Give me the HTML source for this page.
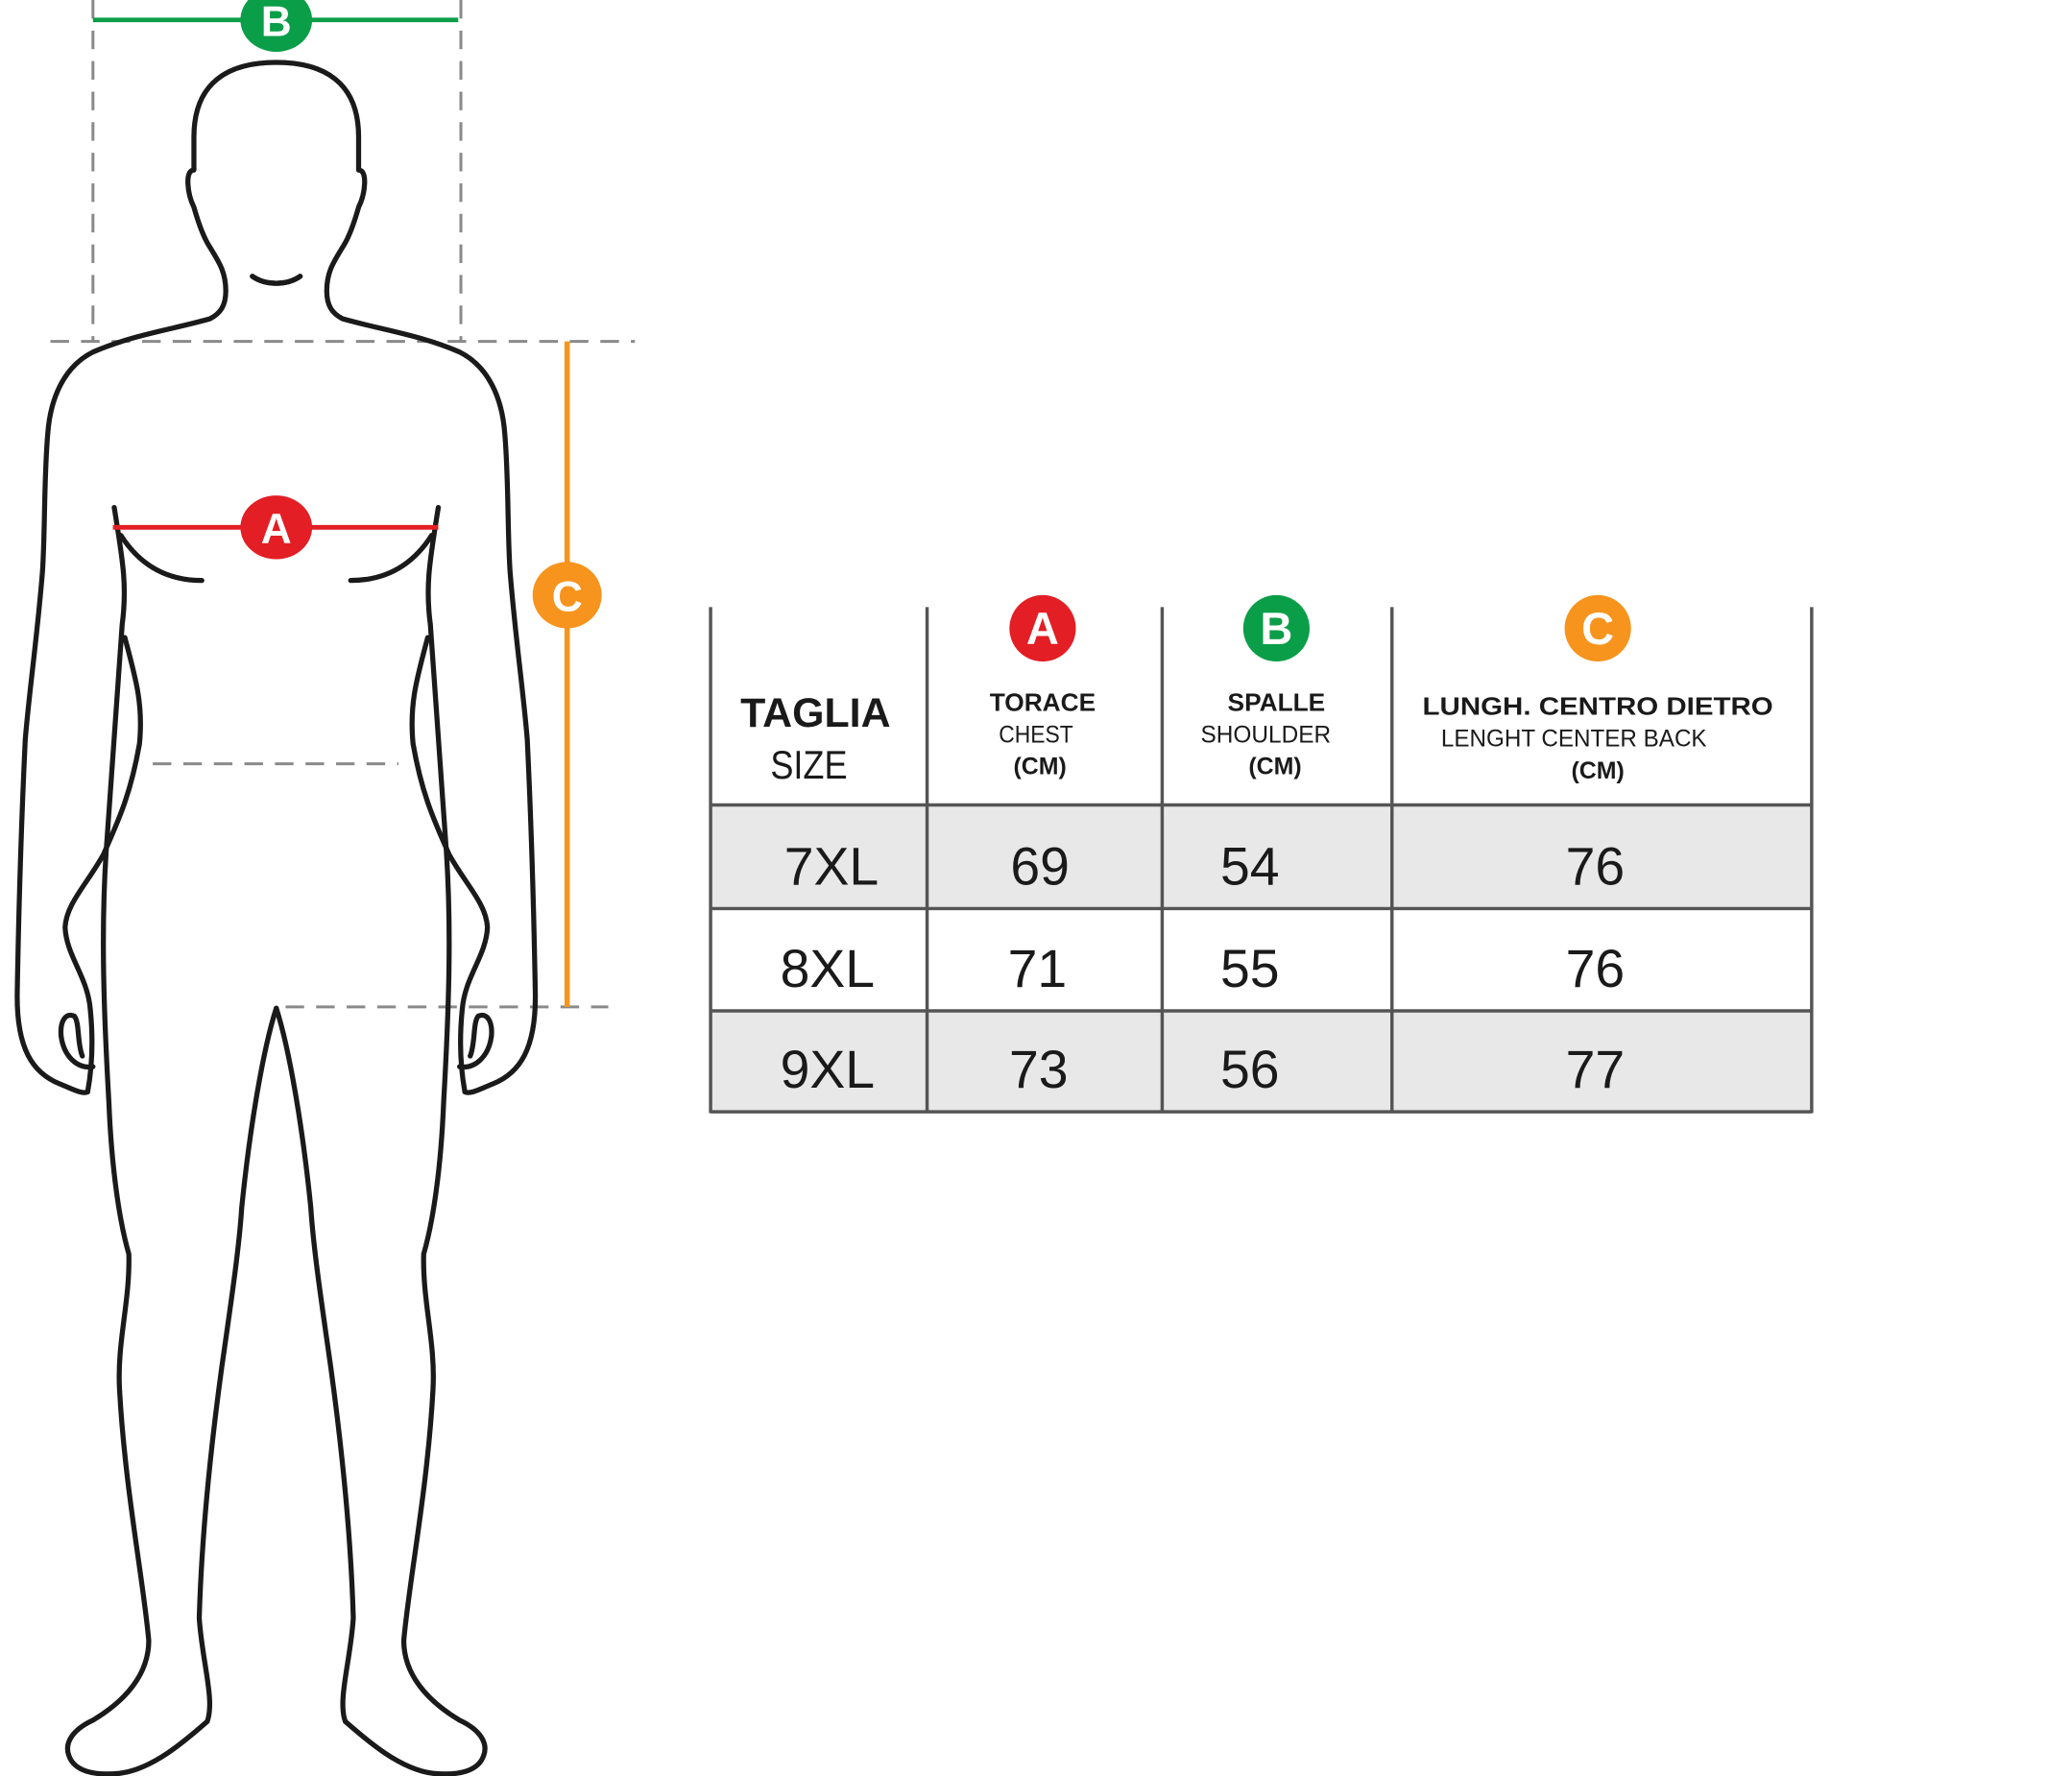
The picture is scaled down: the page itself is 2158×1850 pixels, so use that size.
<!DOCTYPE html>
<html><head><meta charset="utf-8"><style>
html,body{margin:0;padding:0;background:#fff;}
svg{display:block;}
text{font-family:"Liberation Sans",sans-serif;}
</style></head><body>
<svg width="2158" height="1850" viewBox="0 0 1560 1337" preserveAspectRatio="none" xmlns="http://www.w3.org/2000/svg">
<rect width="1560" height="1337" fill="#fff"/>
<g stroke="#8a8a8a" stroke-width="2.2" stroke-dasharray="14,9" fill="none">
<line x1="70" y1="0" x2="70" y2="257"/>
<line x1="347" y1="0" x2="347" y2="257"/>
<line x1="38" y1="257" x2="478" y2="257"/>
<line x1="115" y1="575" x2="300" y2="575"/>
<line x1="215" y1="758" x2="458" y2="758"/>
</g>
<g fill="none" stroke="#1a1a1a" stroke-width="3.8" stroke-linecap="round" stroke-linejoin="round" id="half">
<path d="M208,47 C172,47 146,62 146,103 L146,128 C139,128 141,146 146,156 C150,170 154,180 158,186 C164,196 170,204 170,219 C170,230 166,236 158,240 C130,248 100,252 70,265 C48,276 38,300 36,326 C33,360 34,400 32,430 C28,480 22,520 19,557 C16,620 14,690 13,746 C12,790 25,808 45,816 C55,820 62,824 66,822"/>
<path d="M94,480 C102,510 108,530 105,560 C98,600 88,620 78,643 C66,665 50,680 49,698 C50,720 66,735 68,760 C70,780 70,800 66,822"/>
<path d="M70,803 C58,805 48,795 46,780 C45,768 50,762 56,765 C60,770 58,785 62,795"/>
<path d="M86,382 C92,420 96,440 92,470 C88,520 84,580 80,640 C76,700 78,760 82,830 C84,880 90,920 97,944 C98,980 88,1010 90,1046 C94,1120 108,1190 112,1235 C112,1260 95,1280 70,1295 C55,1302 48,1312 52,1322 C56,1333 70,1337 90,1335 C115,1332 140,1310 156,1296 C162,1280 152,1250 150,1218 C152,1150 160,1080 167,1029 C174,980 180,940 182,909 C188,850 198,790 208,759"/>
<path d="M91,403 C105,425 125,437 152,437"/>
<path d="M190,208 C200,215 216,215 226,208"/>
</g>
<use href="#half" transform="translate(416,0) scale(-1,1)"/>
<line x1="70" y1="15" x2="345" y2="15" stroke="#0a9e48" stroke-width="3.5"/>
<line x1="85" y1="397" x2="330" y2="397" stroke="#e31e24" stroke-width="3.5"/>
<line x1="427" y1="257" x2="427" y2="758" stroke="#f7941d" stroke-width="4"/>
<g font-weight="bold" font-size="32" fill="#fff" text-anchor="middle">
<ellipse cx="208" cy="15" rx="27" ry="24" fill="#0a9e48"/><text x="208" y="27">B</text>
<ellipse cx="208" cy="397" rx="27" ry="24" fill="#e31e24"/><text x="208" y="409">A</text>
<ellipse cx="427" cy="448" rx="26" ry="25" fill="#f7941d"/><text x="427" y="460">C</text>
</g>
<rect x="535" y="606" width="829" height="78" fill="#e8e8e8"/>
<rect x="535" y="761" width="829" height="76" fill="#e8e8e8"/>
<g stroke="#555" stroke-width="2.5">
<line x1="535" y1="457" x2="535" y2="838"/>
<line x1="698" y1="457" x2="698" y2="838"/>
<line x1="875" y1="457" x2="875" y2="838"/>
<line x1="1048" y1="457" x2="1048" y2="838"/>
<line x1="1364" y1="457" x2="1364" y2="838"/>
<line x1="535" y1="606" x2="1364" y2="606"/>
<line x1="535" y1="684" x2="1364" y2="684"/>
<line x1="535" y1="761" x2="1364" y2="761"/>
<line x1="535" y1="837" x2="1364" y2="837"/>
</g>
<g font-weight="bold" font-size="34" fill="#fff" text-anchor="middle">
<circle cx="785" cy="473" r="25" fill="#e31e24"/><text x="785" y="485">A</text>
<circle cx="961" cy="473" r="25" fill="#0a9e48"/><text x="961" y="485">B</text>
<circle cx="1203" cy="473" r="25" fill="#f7941d"/><text x="1203" y="485">C</text>
</g>
<g fill="#1a1a1a" text-anchor="middle">
<text x="614" y="547" font-size="31" font-weight="bold">TAGLIA</text>
<text x="609" y="586" font-size="30" textLength="58" lengthAdjust="spacingAndGlyphs">SIZE</text>
<text x="785" y="535" font-size="19" font-weight="bold">TORACE</text>
<text x="780" y="559" font-size="18" textLength="56" lengthAdjust="spacingAndGlyphs">CHEST</text>
<text x="783" y="583" font-size="18" font-weight="bold">(CM)</text>
<text x="961" y="535" font-size="19" font-weight="bold">SPALLE</text>
<text x="953" y="559" font-size="18" textLength="98" lengthAdjust="spacingAndGlyphs">SHOULDER</text>
<text x="960" y="583" font-size="18" font-weight="bold">(CM)</text>
<text x="1203" y="538" font-size="19" font-weight="bold" textLength="264" lengthAdjust="spacingAndGlyphs">LUNGH. CENTRO DIETRO</text>
<text x="1185" y="562" font-size="18" textLength="200" lengthAdjust="spacingAndGlyphs">LENGHT CENTER BACK</text>
<text x="1203" y="586" font-size="18" font-weight="bold">(CM)</text>
</g>
<g fill="#1a1a1a" font-size="40" text-anchor="middle">
<text x="626" y="666">7XL</text><text x="783" y="666">69</text><text x="941" y="666">54</text><text x="1201" y="666">76</text>
<text x="623" y="743">8XL</text><text x="781" y="743">71</text><text x="941" y="743">55</text><text x="1201" y="743">76</text>
<text x="623" y="819">9XL</text><text x="782" y="819">73</text><text x="941" y="819">56</text><text x="1201" y="819">77</text>
</g>
</svg>
</body></html>
